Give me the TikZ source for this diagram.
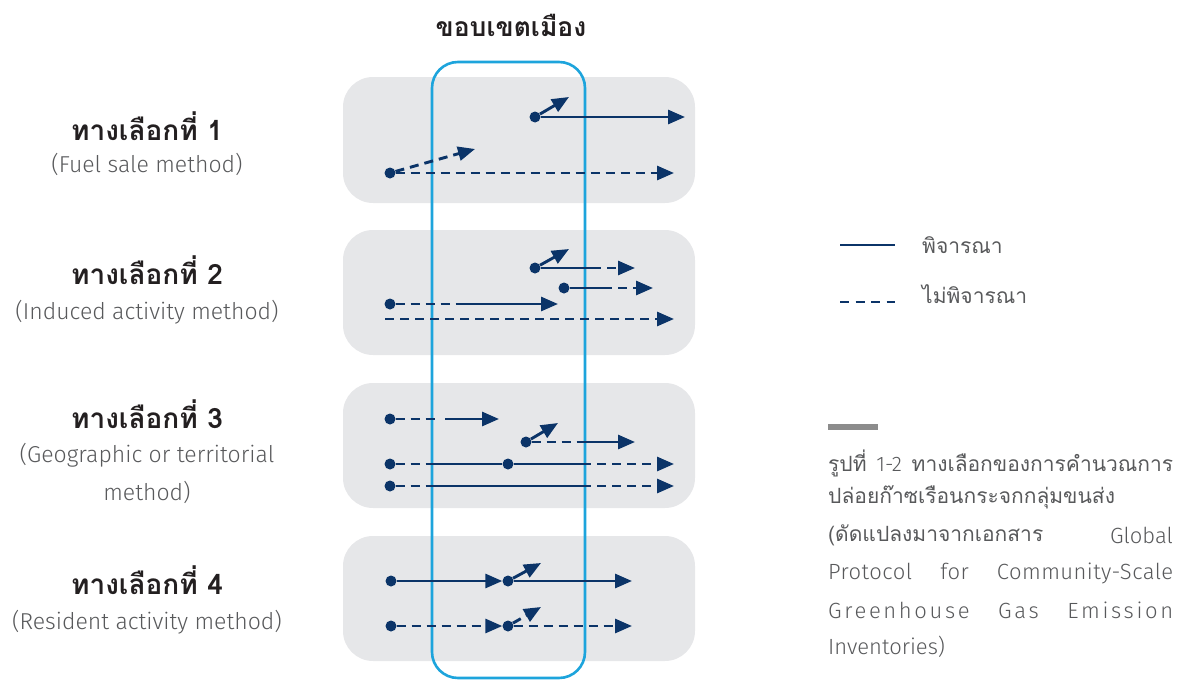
\documentclass[tikz,border=0pt]{standalone}
\usepackage{fontspec}
\setmainfont{Loma}[Script=Thai]
\newfontfamily\latinf{Fira Sans Light}
\usetikzlibrary{arrows.meta}
\definecolor{navy}{HTML}{0B3468}
\definecolor{boxgray}{HTML}{E6E7E9}
\definecolor{frameblue}{HTML}{1DA4DC}
\definecolor{headc}{HTML}{231F20}
\definecolor{subc}{HTML}{58595B}
\definecolor{barc}{HTML}{8C8C8C}
\tikzset{
  dotn/.style={circle,fill=navy,inner sep=0pt,minimum size=11pt},
  sl/.style={draw=navy,line width=2.9pt},
  dl/.style={sl,dash pattern=on 9pt off 6pt},
  ar/.style={-{Triangle[length=17pt,width=14pt]}},
  gbox/.style={fill=boxgray,rounded corners=30pt},
  headtxt/.style={font=\fontsize{28}{32}\selectfont\bfseries,text=headc,inner sep=0pt},
  titletxt/.style={font=\fontsize{26.5}{30}\selectfont\bfseries,text=headc,inner sep=0pt},
  subtxt/.style={font=\latinf\fontsize{23}{38}\selectfont,text=subc,inner sep=0pt,align=center},
  captxt/.style={font=\fontsize{21}{26}\selectfont,text=subc,inner sep=0pt,anchor=west},
  latxt/.style={font=\latinf\fontsize{22}{26}\selectfont,text=subc,inner sep=0pt,anchor=west},
}
\begin{document}
\begin{tikzpicture}[x=1pt,y=-1pt]
\useasboundingbox (0,0) rectangle (1181,680);
% gray boxes
\fill[gbox] (343,77) rectangle (695,203);
\fill[gbox] (343,230) rectangle (695,355);
\fill[gbox] (343,383) rectangle (695,508);
\fill[gbox] (343,536) rectangle (695,661);
% city boundary frame
\draw[frameblue,line width=2.6pt,rounded corners=26pt] (432,62) rectangle (585,678);
\node[titletxt] (title) at (511,25) {ขอบเขตเมือง};
% ---------------- row 1
\node[dotn] (a1) at (535,117) {};
\coordinate (a1e) at (685,117);
\coordinate (a1d) at (569,97);
\node[dotn] (b1) at (390,173) {};
\coordinate (b1e) at (674,173);
\coordinate (b1d) at (475,149);
\draw[sl,ar] (a1) -- (a1e);
\draw[sl,ar] (a1) -- (a1d);
\draw[dl,ar] (b1) -- (b1e);
\draw[dl,ar] (b1) -- (b1d);
% ---------------- row 2
\node[dotn] (a2) at (535,268) {};
\coordinate (a2m) at (592,268);
\coordinate (a2e) at (635,268);
\coordinate (a2d) at (569,249);
\draw[sl] (a2) -- (a2m);
\draw[dl,ar] (a2m) -- (a2e);
\draw[sl,ar] (a2) -- (a2d);
\node[dotn] (b2) at (564,288) {};
\coordinate (b2m) at (603,288);
\coordinate (b2e) at (653,288);
\draw[sl] (b2) -- (b2m);
\draw[dl,ar] (b2m) -- (b2e);
\node[dotn] (c2) at (390,304) {};
\coordinate (c2m) at (457,304);
\coordinate (c2e) at (558,304);
\draw[dl] (c2) -- (c2m);
\draw[sl,ar] (c2m) -- (c2e);
\coordinate (d2s) at (385,319);
\coordinate (d2e) at (674,319);
\draw[dl,ar] (d2s) -- (d2e);
% ---------------- row 3
\node[dotn] (a3) at (390,419) {};
\coordinate (a3m) at (438,419);
\coordinate (a3n) at (445,419);
\coordinate (a3e) at (499,419);
\draw[dl] (a3) -- (a3m);
\draw[sl,ar] (a3n) -- (a3e);
\node[dotn] (b3) at (526,442) {};
\coordinate (b3m) at (580,442);
\coordinate (b3e) at (635,442);
\coordinate (b3d) at (558,423);
\draw[dl] (b3) -- (b3m);
\draw[sl,ar] (b3m) -- (b3e);
\draw[sl,ar] (b3) -- (b3d);
\node[dotn] (c3) at (390,464) {};
\node[dotn] (c3x) at (508,464) {};
\coordinate (c3m) at (432,464);
\coordinate (c3n) at (582,464);
\coordinate (c3e) at (674,464);
\draw[dl] (c3) -- (c3m);
\draw[sl] (c3m) -- (c3x);
\draw[sl] (c3x) -- (c3n);
\draw[dl,ar] (c3n) -- (c3e);
\node[dotn] (e3) at (390,486) {};
\coordinate (e3m) at (432,486);
\coordinate (e3n) at (582,486);
\coordinate (e3e) at (674,486);
\draw[dl] (e3) -- (e3m);
\draw[sl] (e3m) -- (e3n);
\draw[dl,ar] (e3n) -- (e3e);
% ---------------- row 4
\node[dotn] (a4) at (391,581) {};
\node[dotn] (a4x) at (508,581) {};
\coordinate (a4e) at (632,581);
\coordinate (a4d) at (541,563);
\draw[sl,ar] (a4) -- (a4x);
\draw[sl,ar] (a4x) -- (a4e);
\draw[sl,ar] (a4x) -- (a4d);
\node[dotn] (b4) at (391,626) {};
\node[dotn] (b4x) at (508,626) {};
\coordinate (b4e) at (632,626);
\coordinate (b4d) at (541,607);
\draw[dl,ar] (b4) -- (b4x);
\draw[dl,ar] (b4x) -- (b4e);
\draw[dl,ar] (b4x) -- (b4d);
% ---------------- left labels
\node[headtxt] (h1) at (147,126) {ทางเลือกที่ 1};
\node[subtxt] (s1) at (147,164) {(Fuel sale method)};
\node[headtxt] (h2) at (147,270) {ทางเลือกที่ 2};
\node[subtxt] (s2) at (147,312) {(Induced activity method)};
\node[headtxt] (h3) at (147,414) {ทางเลือกที่ 3};
\node[subtxt] (s3) at (147,473) {(Geographic or territorial\\method)};
\node[headtxt] (h4) at (147,580) {ทางเลือกที่ 4};
\node[subtxt] (s4) at (147,622) {(Resident activity method)};
% ---------------- legend
\coordinate (l1a) at (840,245);
\coordinate (l1b) at (895,245);
\draw[sl] (l1a) -- (l1b);
\coordinate (l2a) at (840,302);
\coordinate (l2b) at (895,302);
\draw[sl,dash pattern=on 9pt off 6.5pt] (l2a) -- (l2b);
\node[captxt] (lt1) at (922,245) {พิจารณา};
\node[captxt] (lt2) at (922,294) {ไม่พิจารณา};
% ---------------- caption
\fill[barc] (828,424) rectangle (878,430);
\node[captxt] (c1) at (828,463) {\makebox[345pt][s]{รูปที่ {\latinf 1-2} ทางเลือกของการคำนวณการ}};
\node[captxt] (c2l) at (828,497) {ปล่อยก๊าซเรือนกระจกกลุ่มขนส่ง};
\node[captxt] (c3l) at (828,535) {(ดัดแปลงมาจากเอกสาร};
\node[latxt,anchor=east] (c3r) at (1173,535) {Global};
\node[latxt] (c4l) at (828,573) {\makebox[345pt][s]{\addfontfeature{LetterSpace=2}Protocol for Community-Scale}};
\node[latxt] (c5l) at (828,610) {\makebox[345pt][s]{\addfontfeature{LetterSpace=12}Greenhouse Gas Emission}};
\node[latxt] (c6l) at (828,647) {Inventories)};
\end{tikzpicture}
\end{document}
